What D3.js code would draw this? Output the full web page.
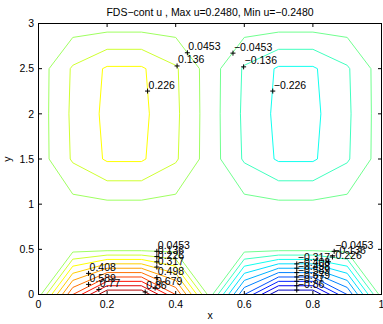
<!DOCTYPE html>
<html><head><meta charset="utf-8">
<script src="https://cdn.jsdelivr.net/npm/d3@7"></script>
<style>
body{margin:0;background:#fff}
text{font-family:"Liberation Sans",Arial,Helvetica,sans-serif;font-size:10.5px;fill:#000}
</style>
</head><body>
<svg id="c" width="383" height="324"></svg>
<script>
// ---- data ----
const xGrid = [0, 0.1, 0.2, 0.3, 0.4, 0.5, 0.6, 0.7, 0.8, 0.9, 1];
const yGrid = [0, 0.5, 1, 1.5, 2, 2.5, 3];
const uRow0  = [0, 0.588, 0.951, 0.951, 0.588, 0, -0.588, -0.951, -0.951, -0.588, 0];
const uRow05 = [0, 0.0106, 0.0171, 0.0171, 0.0106, 0, -0.0106, -0.0171, -0.0171, -0.0106, 0];
const uRow1  = [0, 0.0165, 0.0266, 0.0266, 0.0165, 0, -0.0165, -0.0266, -0.0266, -0.0165, 0];
const uRow15 = [0, 0.147, 0.238, 0.238, 0.147, 0, -0.147, -0.238, -0.238, -0.147, 0];
const uRow2  = [0, 0.1533, 0.248, 0.248, 0.1533, 0, -0.1533, -0.248, -0.248, -0.1533, 0];
const uRow25 = [0, 0.147, 0.238, 0.238, 0.147, 0, -0.147, -0.238, -0.238, -0.147, 0];
const uRow3  = [0, 0, 0, 0, 0, 0, 0, 0, 0, 0, 0];
const uRows = [uRow0, uRow05, uRow1, uRow15, uRow2, uRow25, uRow3];
const levels = [-0.86, -0.77, -0.679, -0.589, -0.498, -0.408, -0.317, -0.226, -0.136, -0.0453,
                 0.0453, 0.136, 0.226, 0.317, 0.408, 0.498, 0.589, 0.679, 0.77, 0.86];
const xTicks = [0, 0.2, 0.4, 0.6, 0.8, 1];
const yTicks = [0, 0.5, 1, 1.5, 2, 2.5, 3];
const labelLevels = [0.0453, 0.136, 0.226, -0.0453, -0.136, -0.226,
  0.0453, 0.136, 0.226, 0.317, 0.408, 0.498, 0.589, 0.679, 0.77, 0.86,
  -0.0453, -0.136, -0.226, -0.317, -0.408, -0.498, -0.589, -0.679, -0.77, -0.86];
const labelX = [0.434, 0.404, 0.318, 0.567, 0.598, 0.683,
  0.345, 0.345, 0.345, 0.345, 0.146, 0.345, 0.146, 0.34, 0.176, 0.311,
  0.862, 0.857, 0.845, 0.753, 0.753, 0.753, 0.753, 0.753, 0.753, 0.753];
const labelY = [2.676, 2.53, 2.252, 2.672, 2.52, 2.252,
  0.478, 0.42, 0.362, 0.304, 0.234, 0.187, 0.112, 0.072, 0.056, 0.028,
  0.478, 0.416, 0.363, 0.339, 0.291, 0.2425, 0.194, 0.146, 0.097, 0.049];
const titleText = "FDS\u2212cont u , Max u=0.2480, Min u=\u22120.2480";
const xLabel = "x", yLabel = "y";

// ---- layout ----
const svg = d3.select("#c");
const L = 38.5, R = 381.5, T = 23.5, B = 294.5;
const x = d3.scaleLinear().domain([0, 1]).range([L, R]);
const y = d3.scaleLinear().domain([0, 3]).range([B, T]);

// jet(64) colormap as in MATLAB
function jet64() {
  const m = 64, n = 16, u = [];
  for (let i = 1; i <= n; i++) u.push(i / n);
  for (let i = 1; i < n; i++) u.push(1);
  for (let i = n; i >= 1; i--) u.push(i / n);
  const cmap = Array.from({length: m}, () => [0, 0, 0]);
  const g0 = Math.ceil(n / 2) - (m % 4 === 1 ? 1 : 0);
  for (let k = 0; k < u.length; k++) {
    const gi = g0 + k + 1, ri = gi + n, bi = gi - n;
    if (gi >= 1 && gi <= m) cmap[gi - 1][1] = u[k];
    if (ri >= 1 && ri <= m) cmap[ri - 1][0] = u[k];
    if (bi >= 1 && bi <= m) cmap[bi - 1][2] = u[k];
  }
  return cmap;
}
const cmap = jet64();
const flat = uRows.flat();
const [cmin, cmax] = d3.extent(flat);
function levelColor(v) {
  let idx = Math.floor((v - cmin) / (cmax - cmin) * 64);
  idx = Math.max(0, Math.min(63, idx));
  const c = cmap[idx];
  return d3.rgb(c[0] * 255, c[1] * 255, c[2] * 255).toString();
}

// ---- contours ----
const nx = xGrid.length, ny = yGrid.length;
const gx = d3.scaleLinear().domain([0.5, nx - 0.5]).range([xGrid[0], xGrid[nx - 1]]);
const gy = d3.scaleLinear().domain([0.5, ny - 0.5]).range([yGrid[0], yGrid[ny - 1]]);
const proj = d3.geoTransform({point(px, py) { this.stream.point(x(gx(px)), y(gy(py))); }});
const path = d3.geoPath(proj);
const contours = d3.contours().size([nx, ny]).thresholds(levels)(flat);

svg.append("clipPath").attr("id", "clip").append("rect")
  .attr("x", L).attr("y", T).attr("width", R - L).attr("height", B - T);

svg.append("g").attr("clip-path", "url(#clip)")
  .selectAll("path").data(contours).join("path")
  .attr("d", path)
  .attr("fill", "none")
  .attr("stroke", d => levelColor(d.value))
  .attr("stroke-width", 1);

// ---- axes box and ticks ----
const ax = svg.append("g").attr("stroke", "#000").attr("stroke-width", 1);
ax.append("rect").attr("x", L).attr("y", T).attr("width", R - L).attr("height", B - T).attr("fill", "none");
const tl = 3.5;
xTicks.forEach(t => {
  ax.append("line").attr("x1", x(t)).attr("x2", x(t)).attr("y1", B).attr("y2", B - tl);
  ax.append("line").attr("x1", x(t)).attr("x2", x(t)).attr("y1", T).attr("y2", T + tl);
});
yTicks.forEach(t => {
  ax.append("line").attr("x1", L).attr("x2", L + tl).attr("y1", y(t)).attr("y2", y(t));
  ax.append("line").attr("x1", R).attr("x2", R - tl).attr("y1", y(t)).attr("y2", y(t));
});
const fmt = d3.format("~g");
svg.append("g").selectAll("text").data(xTicks).join("text")
  .attr("x", d => x(d)).attr("y", 307.5).attr("text-anchor", "middle").text(d => fmt(d));
svg.append("g").selectAll("text").data(yTicks).join("text")
  .attr("x", 34).attr("y", d => y(d) + 3.8).attr("text-anchor", "end").text(d => fmt(d));

svg.append("text").attr("x", (L + R) / 2).attr("y", 318.5).attr("text-anchor", "middle").text(xLabel);
svg.append("text").attr("transform", `translate(11,${(T + B) / 2}) rotate(-90)`)
  .attr("text-anchor", "middle").text(yLabel);
svg.append("text").attr("x", (L + R) / 2).attr("y", 16).attr("text-anchor", "middle").text(titleText);

// ---- contour labels ----
const lfmt = d3.format(".3~g");
const lab = svg.append("g");
labelLevels.forEach((v, i) => {
  const px = x(labelX[i]), py = y(labelY[i]);
  lab.append("path").attr("d", `M${px - 2.5},${py}H${px + 2.5}M${px},${py - 2.5}V${py + 2.5}`)
    .attr("stroke", "#000").attr("stroke-width", 1).attr("fill", "none");
  lab.append("text").attr("x", px + 1).attr("y", py - 2.5).text(lfmt(v));
});
</script>
</body></html>
